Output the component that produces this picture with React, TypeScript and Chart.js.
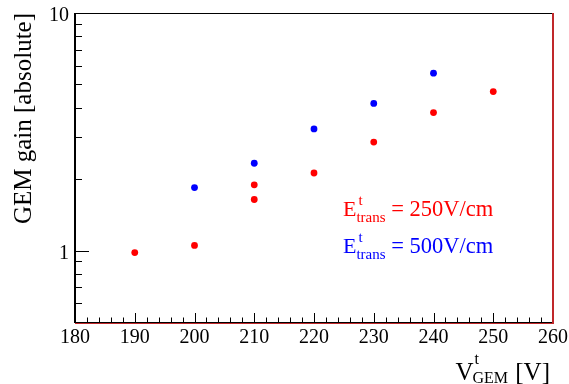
import React, { useEffect, useRef } from 'react';
import { Chart, registerables } from 'chart.js';

Chart.register(...registerables);

// ---- data ----
const voltages250: number[] = [190, 200, 210, 210, 220, 230, 240, 250];
const gains250: number[] = [0.98, 1.05, 1.64, 1.89, 2.12, 2.86, 3.81, 4.67];
const voltages500: number[] = [200, 210, 220, 230, 240];
const gains500: number[] = [1.84, 2.33, 3.25, 4.16, 5.58];

const xMin = 180;
const xMax = 260;
const xMajorStep = 10;
const xMinorStep = 2;
const yMin = 0.5;
const yMax = 10;
const yMajorTicks: number[] = [1, 10];
const yMinorTicks: number[] = [0.6, 0.7, 0.8, 0.9, 2, 3, 4, 5, 6, 7, 8, 9];

const yTitle = 'GEM gain [absolute]';
const xTitleMain = 'V';
const xTitleSup = 't';
const xTitleSub = 'GEM';
const xTitleUnit = ' [V]';
const legendLabels: string[] = ['= 250V/cm', '= 500V/cm'];
const legendColors: string[] = ['#ff0000', '#0000ff'];

const FONT = '"Liberation Serif", "DejaVu Serif", serif';

const zeroPadding = (scale: any) => {
  scale.paddingTop = 0;
  scale.paddingBottom = 0;
  scale.paddingLeft = 0;
  scale.paddingRight = 0;
};

const decorPlugin = {
  id: 'rootDecor',
  afterDraw(chart: any) {
    const ctx: CanvasRenderingContext2D = chart.ctx;
    const { left, right, top, bottom } = chart.chartArea;
    const xs = chart.scales.x;
    const ys = chart.scales.y;
    ctx.save();

    // frame
    ctx.lineWidth = 1;
    ctx.strokeStyle = '#000';
    ctx.beginPath();
    ctx.moveTo(left, top + 0.5);
    ctx.lineTo(right, top + 0.5);
    ctx.stroke();
    ctx.lineWidth = 2;
    ctx.beginPath();
    ctx.moveTo(left, top);
    ctx.lineTo(left, bottom + 1);
    ctx.stroke();
    ctx.lineWidth = 1;
    ctx.beginPath();
    ctx.moveTo(left, bottom + 0.5);
    ctx.lineTo(right, bottom + 0.5);
    ctx.stroke();
    ctx.strokeStyle = '#c0282a';
    ctx.beginPath();
    ctx.moveTo(left, bottom + 1.5);
    ctx.lineTo(right + 1, bottom + 1.5);
    ctx.stroke();
    ctx.lineWidth = 2;
    ctx.beginPath();
    ctx.moveTo(right, top);
    ctx.lineTo(right, bottom + 2);
    ctx.stroke();

    // x ticks (inside)
    ctx.strokeStyle = '#000';
    ctx.lineWidth = 1;
    for (let v = xMin + xMinorStep; v < xMax; v += xMinorStep) {
      const px = Math.round(xs.getPixelForValue(v)) + 0.5;
      const major = Math.abs(v % xMajorStep) < 1e-9;
      const len = major ? 9 : 4.5;
      ctx.beginPath();
      ctx.moveTo(px, bottom);
      ctx.lineTo(px, bottom - len);
      ctx.stroke();
    }
    // y ticks (inside)
    const yTicksAll = [...yMajorTicks.map((v) => [v, 14]), ...yMinorTicks.map((v) => [v, 7])];
    for (const [v, len] of yTicksAll) {
      const py = Math.round(ys.getPixelForValue(v)) + 0.5;
      ctx.beginPath();
      ctx.moveTo(left, py);
      ctx.lineTo(left + len, py);
      ctx.stroke();
    }

    // y title
    ctx.fillStyle = '#000';
    ctx.font = `25px ${FONT}`;
    ctx.textBaseline = 'alphabetic';
    ctx.save();
    ctx.translate(31, top);
    ctx.rotate(-Math.PI / 2);
    ctx.textAlign = 'right';
    ctx.fillText(yTitle, 0, 0);
    ctx.restore();

    // x title (right aligned)
    ctx.textAlign = 'left';
    const big = `25px ${FONT}`;
    const small = `16px ${FONT}`;
    ctx.font = big;
    const wV = ctx.measureText(xTitleMain).width;
    const wUnit = ctx.measureText(xTitleUnit).width;
    ctx.font = small;
    const wSub = ctx.measureText(xTitleSub).width;
    const wSup = ctx.measureText(xTitleSup).width;
    const total = wV + Math.max(wSub, wSup) + wUnit;
    const x0 = right - 3 - total;
    const base = 380;
    ctx.font = big;
    ctx.fillText(xTitleMain, x0, base);
    ctx.font = small;
    ctx.fillText(xTitleSup, x0 + wV + 1, base - 16);
    ctx.fillText(xTitleSub, x0 + wV - 1, base + 3);
    ctx.font = big;
    ctx.fillText(xTitleUnit, x0 + wV + Math.max(wSub, wSup), base);

    // legend texts
    const lx = 343;
    const baselines = [216, 253];
    legendLabels.forEach((lab, i) => {
      const b = baselines[i];
      ctx.fillStyle = legendColors[i];
      ctx.font = `22px ${FONT}`;
      ctx.fillText('E', lx, b);
      const wE = ctx.measureText('E').width;
      ctx.font = `15px ${FONT}`;
      ctx.fillText('t', lx + wE + 2, b - 11);
      ctx.fillText('trans', lx + wE, b + 6);
      const wT = ctx.measureText('trans').width;
      ctx.font = `22.5px ${FONT}`;
      ctx.fillText(' ' + lab, lx + wE + wT, b);
    });

    ctx.restore();
  },
};

export default function App() {
  const canvasRef = useRef<HTMLCanvasElement | null>(null);

  useEffect(() => {
    document.body.style.margin = '0';
    const canvas = canvasRef.current;
    if (!canvas) return;
    const chart = new Chart(canvas, {
      type: 'scatter',
      data: {
        datasets: [
          {
            label: 'E_trans = 250V/cm',
            data: voltages250.map((x, i) => ({ x, y: gains250[i] })),
            backgroundColor: legendColors[0],
            borderColor: legendColors[0],
            pointRadius: 3.4,
            pointBorderWidth: 0,
          },
          {
            label: 'E_trans = 500V/cm',
            data: voltages500.map((x, i) => ({ x, y: gains500[i] })),
            backgroundColor: legendColors[1],
            borderColor: legendColors[1],
            pointRadius: 3.4,
            pointBorderWidth: 0,
          },
        ],
      },
      options: {
        responsive: false,
        animation: false,
        devicePixelRatio: 1,
        layout: { padding: { top: 13, right: 16, left: 0, bottom: 0 } },
        plugins: {
          legend: { display: false },
          tooltip: { enabled: false },
        },
        scales: {
          x: {
            type: 'linear',
            min: xMin,
            max: xMax,
            grid: { display: false, drawTicks: false },
            border: { display: false },
            ticks: {
              stepSize: xMajorStep,
              color: '#000',
              font: { family: FONT, size: 20 },
              padding: 4,
              maxRotation: 0,
              autoSkip: false,
            },
            afterFit: (scale: any) => {
              scale.height = 62;
              zeroPadding(scale);
            },
          },
          y: {
            type: 'logarithmic',
            min: yMin,
            max: yMax,
            grid: { display: false, drawTicks: false },
            border: { display: false },
            afterBuildTicks: (scale: any) => {
              scale.ticks = yMajorTicks.map((v) => ({ value: v, major: true }));
            },
            ticks: {
              color: '#000',
              font: { family: FONT, size: 20 },
              padding: 6,
              labelOffset: 3,
              callback: (v: any) => String(v),
            },
            afterFit: (scale: any) => {
              scale.width = 75;
              zeroPadding(scale);
            },
          },
        },
      },
      plugins: [decorPlugin],
    });
    return () => chart.destroy();
  }, []);

  return (
    <div style={{ position: 'absolute', left: 0, top: 0, width: 569, height: 384, background: '#fff' }}>
      <canvas ref={canvasRef} width={569} height={384} />
    </div>
  );
}
